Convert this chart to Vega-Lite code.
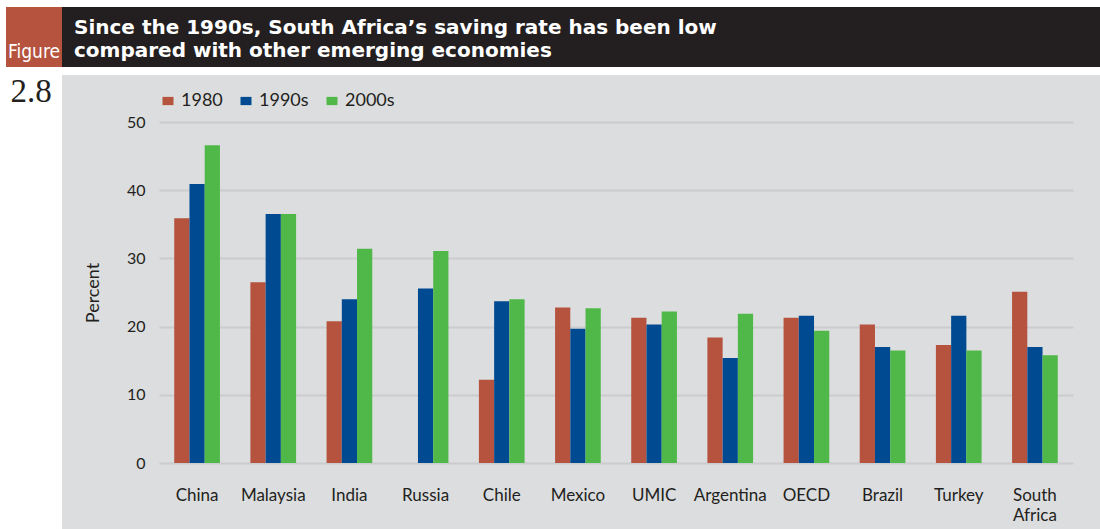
{
  "$schema": "https://vega.github.io/schema/vega-lite/v6.json",
  "background": "#dcdddf",
  "padding": 0,
  "config": {
    "view": {"stroke": null},
    "concat": {"spacing": 0},
    "font": "Lato"
  },
  "resolve": {"scale": {"color": "independent"}, "legend": {"color": "independent"}},
  "vconcat": [
    {
      "vconcat": [
        {"width": 1100, "height": 7, "view": {"fill": "#ffffff"}, "data": {"values": [{}]}, "mark": {"type": "rect", "opacity": 0}, "encoding": {}},
        {
          "hconcat": [
            {"width": 6, "height": 60, "view": {"fill": "#ffffff"}, "data": {"values": [{}]}, "mark": {"type": "rect", "opacity": 0}, "encoding": {}},
            {
              "vconcat": [
                {"width": 56, "height": 30, "view": {"fill": "#b5533f"}, "data": {"values": [{}]}, "mark": {"type": "rect", "opacity": 0}, "encoding": {}},
                {"width": 56, "height": 30, "view": {"fill": "#b5533f"}, "data": {"values": [{}]},
                 "mark": {"type": "text", "text": "Figure", "font": "Liberation Sans Narrow, DejaVu Sans Condensed, sans-serif", "fontSize": 19, "color": "#ffffff", "align": "center", "baseline": "middle"},
                 "encoding": {}}
              ],
              "spacing": 0
            },
            {"width": 1038, "height": 60, "view": {"fill": "#231f20"}, "data": {"values": [{}]}, "mark": {"type": "rect", "opacity": 0}, "encoding": {},
             "title": {"text": ["Since the 1990s, South Africa’s saving rate has been low", "compared with other emerging economies"],
                       "anchor": "start", "frame": "group", "orient": "top", "offset": -54, "dx": 12,
                       "color": "#ffffff", "font": "DejaVu Sans", "fontSize": 20, "fontWeight": "bold", "lineHeight": 23}}
          ],
          "spacing": 0
        },
        {"width": 1100, "height": 8, "view": {"fill": "#ffffff"}, "data": {"values": [{}]}, "mark": {"type": "rect", "opacity": 0}, "encoding": {}}
      ],
      "spacing": 0
    },
    {
      "resolve": {"scale": {"color": "independent"}, "legend": {"color": "independent"}},
      "hconcat": [
        {
          "vconcat": [
            {"width": 62, "height": 34, "view": {"fill": "#ffffff"}, "data": {"values": [{}]},
             "mark": {"type": "text", "text": "2.8", "font": "Liberation Serif, DejaVu Serif, serif", "fontSize": 33, "color": "#231f20", "align": "center", "baseline": "middle"},
             "encoding": {}},
            {"width": 62, "height": 420, "view": {"fill": "#ffffff"}, "data": {"values": [{}]}, "mark": {"type": "rect", "opacity": 0}, "encoding": {}}
          ],
          "spacing": 0
        },
        {
          "resolve": {"scale": {"color": "independent"}, "legend": {"color": "independent"}},
          "vconcat": [
            {"width": 1, "height": 1, "data": {"values": [{}]}, "mark": {"type": "rect", "opacity": 0}, "encoding": {}},
            {
              "width": 914,
              "height": 341,
              "data": {
                "values": [
                  {"country": "China", "period": "1980", "value": 35.9},
                  {"country": "China", "period": "1990s", "value": 40.9},
                  {"country": "China", "period": "2000s", "value": 46.6},
                  {"country": "Malaysia", "period": "1980", "value": 26.5},
                  {"country": "Malaysia", "period": "1990s", "value": 36.5},
                  {"country": "Malaysia", "period": "2000s", "value": 36.5},
                  {"country": "India", "period": "1980", "value": 20.8},
                  {"country": "India", "period": "1990s", "value": 24.0},
                  {"country": "India", "period": "2000s", "value": 31.4},
                  {"country": "Russia", "period": "1990s", "value": 25.6},
                  {"country": "Russia", "period": "2000s", "value": 31.1},
                  {"country": "Chile", "period": "1980", "value": 12.2},
                  {"country": "Chile", "period": "1990s", "value": 23.7},
                  {"country": "Chile", "period": "2000s", "value": 24.0},
                  {"country": "Mexico", "period": "1980", "value": 22.8},
                  {"country": "Mexico", "period": "1990s", "value": 19.7},
                  {"country": "Mexico", "period": "2000s", "value": 22.7},
                  {"country": "UMIC", "period": "1980", "value": 21.3},
                  {"country": "UMIC", "period": "1990s", "value": 20.3},
                  {"country": "UMIC", "period": "2000s", "value": 22.2},
                  {"country": "Argentina", "period": "1980", "value": 18.4},
                  {"country": "Argentina", "period": "1990s", "value": 15.4},
                  {"country": "Argentina", "period": "2000s", "value": 21.9},
                  {"country": "OECD", "period": "1980", "value": 21.3},
                  {"country": "OECD", "period": "1990s", "value": 21.6},
                  {"country": "OECD", "period": "2000s", "value": 19.4},
                  {"country": "Brazil", "period": "1980", "value": 20.3},
                  {"country": "Brazil", "period": "1990s", "value": 17.0},
                  {"country": "Brazil", "period": "2000s", "value": 16.5},
                  {"country": "Turkey", "period": "1980", "value": 17.3},
                  {"country": "Turkey", "period": "1990s", "value": 21.6},
                  {"country": "Turkey", "period": "2000s", "value": 16.5},
                  {"country": "South Africa", "period": "1980", "value": 25.1},
                  {"country": "South Africa", "period": "1990s", "value": 17.0},
                  {"country": "South Africa", "period": "2000s", "value": 15.8}
                ]
              },
              "mark": {"type": "bar"},
              "encoding": {
                "x": {
                  "field": "country", "type": "nominal",
                  "sort": ["China", "Malaysia", "India", "Russia", "Chile", "Mexico", "UMIC", "Argentina", "OECD", "Brazil", "Turkey", "South Africa"],
                  "scale": {"paddingInner": 0.4, "paddingOuter": 0.2},
                  "axis": {
                    "title": null, "labelAngle": 0, "domain": false, "ticks": false, "grid": false,
                    "labelPadding": 24, "labelFont": "Lato", "labelFontSize": 17, "labelColor": "#231f20",
                    "labelLineHeight": 20,
                    "labelExpr": "datum.label == 'South Africa' ? ['South', 'Africa'] : datum.label"
                  }
                },
                "xOffset": {"field": "period", "type": "nominal", "sort": ["1980", "1990s", "2000s"]},
                "y": {
                  "field": "value", "type": "quantitative",
                  "scale": {"domain": [0, 50]},
                  "axis": {
                    "title": "Percent", "values": [0, 10, 20, 30, 40, 50],
                    "grid": true, "gridColor": "#cbccce", "gridWidth": 2,
                    "domain": false, "ticks": false,
                    "labelPadding": 14, "labelFont": "Lato", "labelFontSize": 16, "labelColor": "#231f20",
                    "titleFont": "Lato", "titleFontSize": 18, "titleFontWeight": "normal", "titleColor": "#231f20", "titlePadding": 24
                  }
                },
                "color": {
                  "field": "period", "type": "nominal",
                  "scale": {"domain": ["1980", "1990s", "2000s"], "range": ["#b5533f", "#004a91", "#50b848"]},
                  "legend": {
                    "title": null, "orient": "top", "direction": "horizontal",
                    "symbolType": "M-1,-0.75H1V0.75H-1Z", "symbolSize": 121, "symbolStrokeWidth": 0,
                    "labelFont": "Lato", "labelFontSize": 18, "labelColor": "#231f20",
                    "labelOffset": 4, "columnPadding": 14, "offset": 12
                  }
                }
              }
            }
          ],
          "spacing": 16
        }
      ],
      "spacing": 22
    }
  ]
}
